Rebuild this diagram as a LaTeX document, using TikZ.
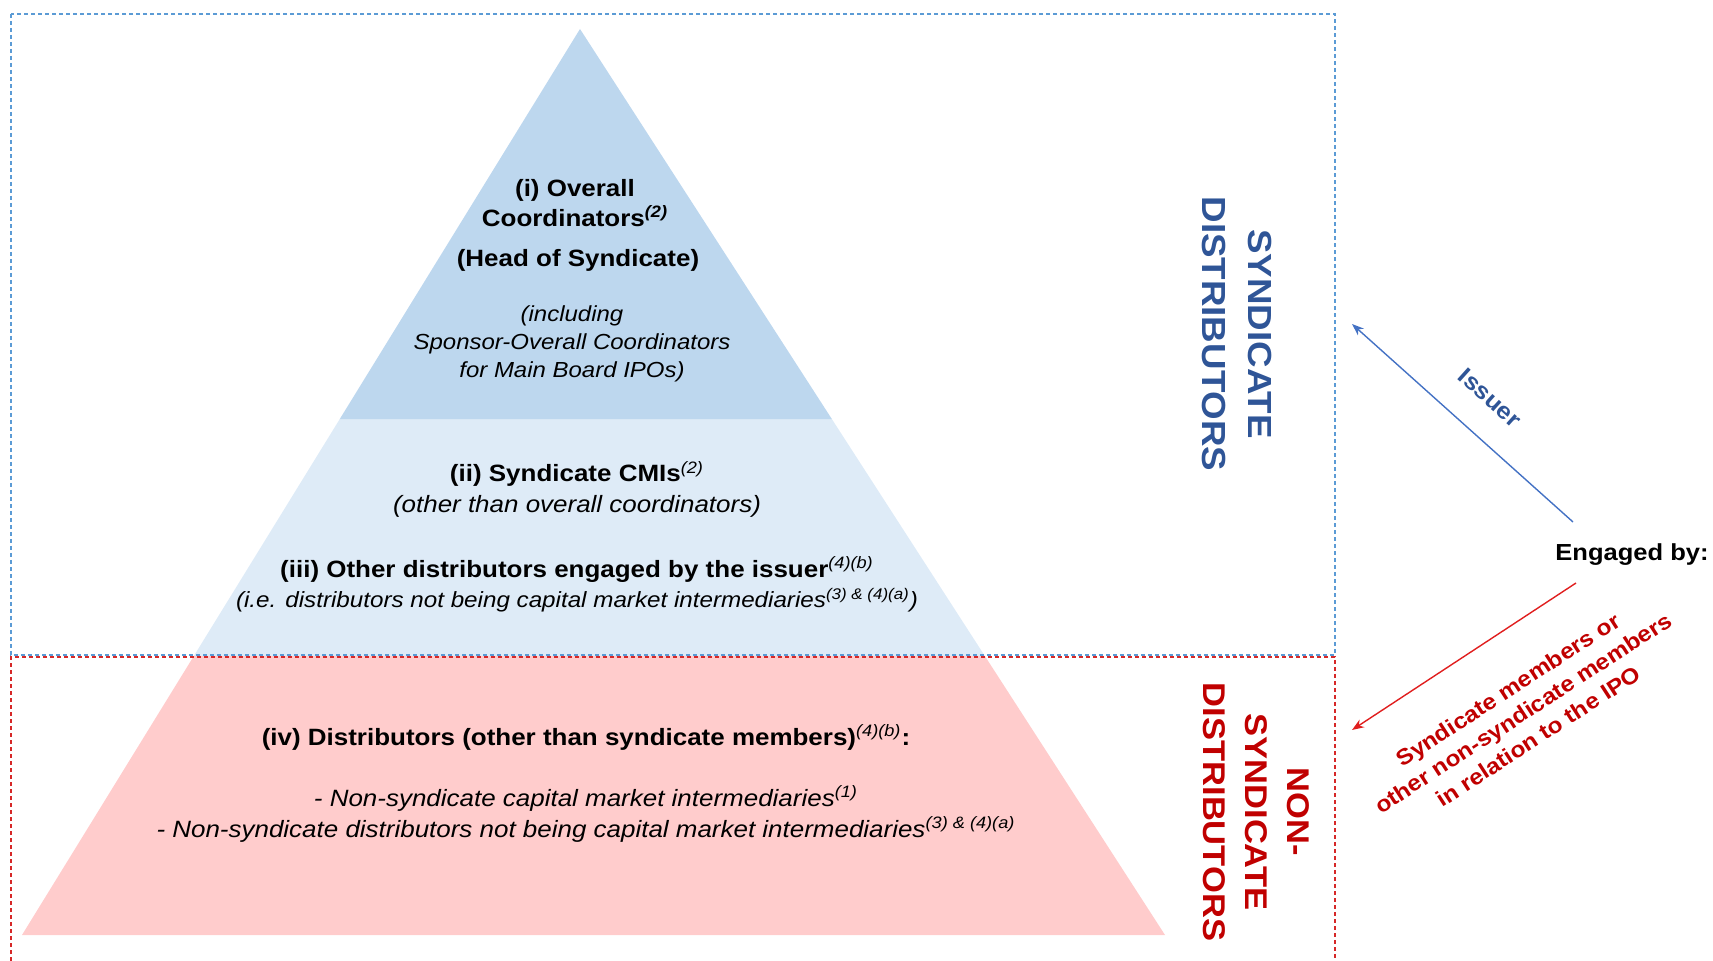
\documentclass[tikz,border=0pt]{standalone}
\usepackage{fontspec}
\setmainfont{Liberation Sans}[FakeStretch=1.1]
\usetikzlibrary{arrows.meta,calc}

\definecolor{topblue}{RGB}{189,215,238}
\definecolor{midblue}{RGB}{222,235,247}
\definecolor{lowred}{RGB}{255,204,204}
\definecolor{synblue}{RGB}{47,85,151}
\definecolor{synred}{RGB}{192,0,0}
\definecolor{boxblue}{RGB}{91,155,213}
\definecolor{boxred}{RGB}{214,40,40}
\definecolor{arrowblue}{RGB}{68,114,196}
\definecolor{arrowred}{RGB}{224,30,30}

\newcommand{\fnref}[1]{\textsuperscript{\itshape #1}}

\tikzset{tier text/.style={align=center, inner sep=0pt}}
\tikzset{box line/.style={line width=0.75pt, dash pattern=on 2pt off 1.5pt}}
\tikzset{side label/.style={align=center, inner sep=0pt, rotate=-90, font=\bfseries\fontsize{16.7}{23}\selectfont}}
\tikzset{engage arrow/.style={line width=0.7pt, -{Stealth[length=6pt,width=4.5pt]}}}

\begin{document}
\begin{tikzpicture}[x=0.5pt,y=-0.5pt]
\useasboundingbox (0,0) rectangle (1713,961);

% pyramid
\coordinate (apex) at (580,29);
\coordinate (baseL) at (22,935);
\coordinate (baseR) at (1165,935);
\coordinate (cutL1) at ($(apex)!0.431!(baseL)$);
\coordinate (cutR1) at ($(apex)!0.431!(baseR)$);
\coordinate (cutL2) at ($(apex)!0.692!(baseL)$);
\coordinate (cutR2) at ($(apex)!0.692!(baseR)$);

\fill[lowred] (cutL2) -- (cutR2) -- (baseR) -- (baseL) -- cycle;
\fill[midblue] (cutL1) -- (cutR1) -- (cutR2) -- (cutL2) -- cycle;
\fill[topblue] (apex) -- (cutR1) -- (cutL1) -- cycle;

% dashed frames
\draw[box line, boxblue] (11,14) rectangle (1335,655);
\draw[box line, boxred] (11,961) -- (11,657) -- (1335,657) -- (1335,961);

% tier texts
\node[tier text, font=\bfseries\fontsize{11.8}{15.25}\selectfont] (ocTitle) at (575,203) {(i) Overall\\Coordinators\fnref{(2)}};
\node[tier text, font=\bfseries\fontsize{11.8}{15.25}\selectfont] (ocHead) at (578,260) {(Head of Syndicate)};
\node[tier text, font=\itshape\fontsize{10.9}{13.9}\selectfont] (ocNote) at (572,344) {(including\\Sponsor-Overall Coordinators\\for Main Board IPOs)};

\node[tier text, font=\fontsize{11.8}{15.5}\selectfont] (cmiTitle) at (577,489.5)
  {\textbf{(ii) Syndicate CMIs}\fnref{(2)}\\\textit{(other than overall coordinators)}};
\node[tier text, font=\fontsize{11.8}{15}\selectfont] (otherTitle) at (577,584)
  {\textbf{(iii) Other distributors engaged by the issuer}\fnref{(4)(b)}\\
   {\itshape\fontsize{11}{15}\selectfont (i.e. distributors not being capital market intermediaries\fnref{(3) \& (4)(a)})}};

\node[tier text, font=\fontsize{11.8}{15}\selectfont] (nonSynTitle) at (586,737.5)
  {\textbf{(iv) Distributors (other than syndicate members)}\fnref{(4)(b)}\textbf{:}};
\node[tier text, font=\itshape\fontsize{11.8}{15.2}\selectfont] (nonSynList) at (586,814)
  {- Non-syndicate capital market intermediaries\fnref{(1)}\\
   - Non-syndicate distributors not being capital market intermediaries\fnref{(3) \& (4)(a)}};

% side labels
\node[side label, text=synblue] (synLabel) at (1237,334) {SYNDICATE\\DISTRIBUTORS};
\node[side label, text=synred, font=\bfseries\fontsize{15.7}{21}\selectfont] (nonSynLabel) at (1256,812) {NON-\\SYNDICATE\\DISTRIBUTORS};

% engaged by
\node[inner sep=0pt, font=\bfseries\fontsize{11.6}{14}\selectfont] (engaged) at (1632,555) {Engaged by:};
\coordinate (issuerFrom) at (1573,522);
\coordinate (issuerTo) at (1352,324);
\coordinate (memberFrom) at (1576,583);
\coordinate (memberTo) at (1352,730);
\draw[engage arrow, arrowblue] (issuerFrom) -- (issuerTo);
\draw[engage arrow, arrowred] (memberFrom) -- (memberTo);

\node[inner sep=0pt, rotate=-42, text=synblue, font=\bfseries\fontsize{11.6}{14}\selectfont] (issuerLbl) at (1490,398) {Issuer};
\node[tier text, rotate=33, text=synred, font=\bfseries\fontsize{11.1}{13.9}\selectfont] (membersLbl) at (1523,713)
  {Syndicate members or\\other non-syndicate members\\in relation to the IPO};

\end{tikzpicture}
\end{document}
